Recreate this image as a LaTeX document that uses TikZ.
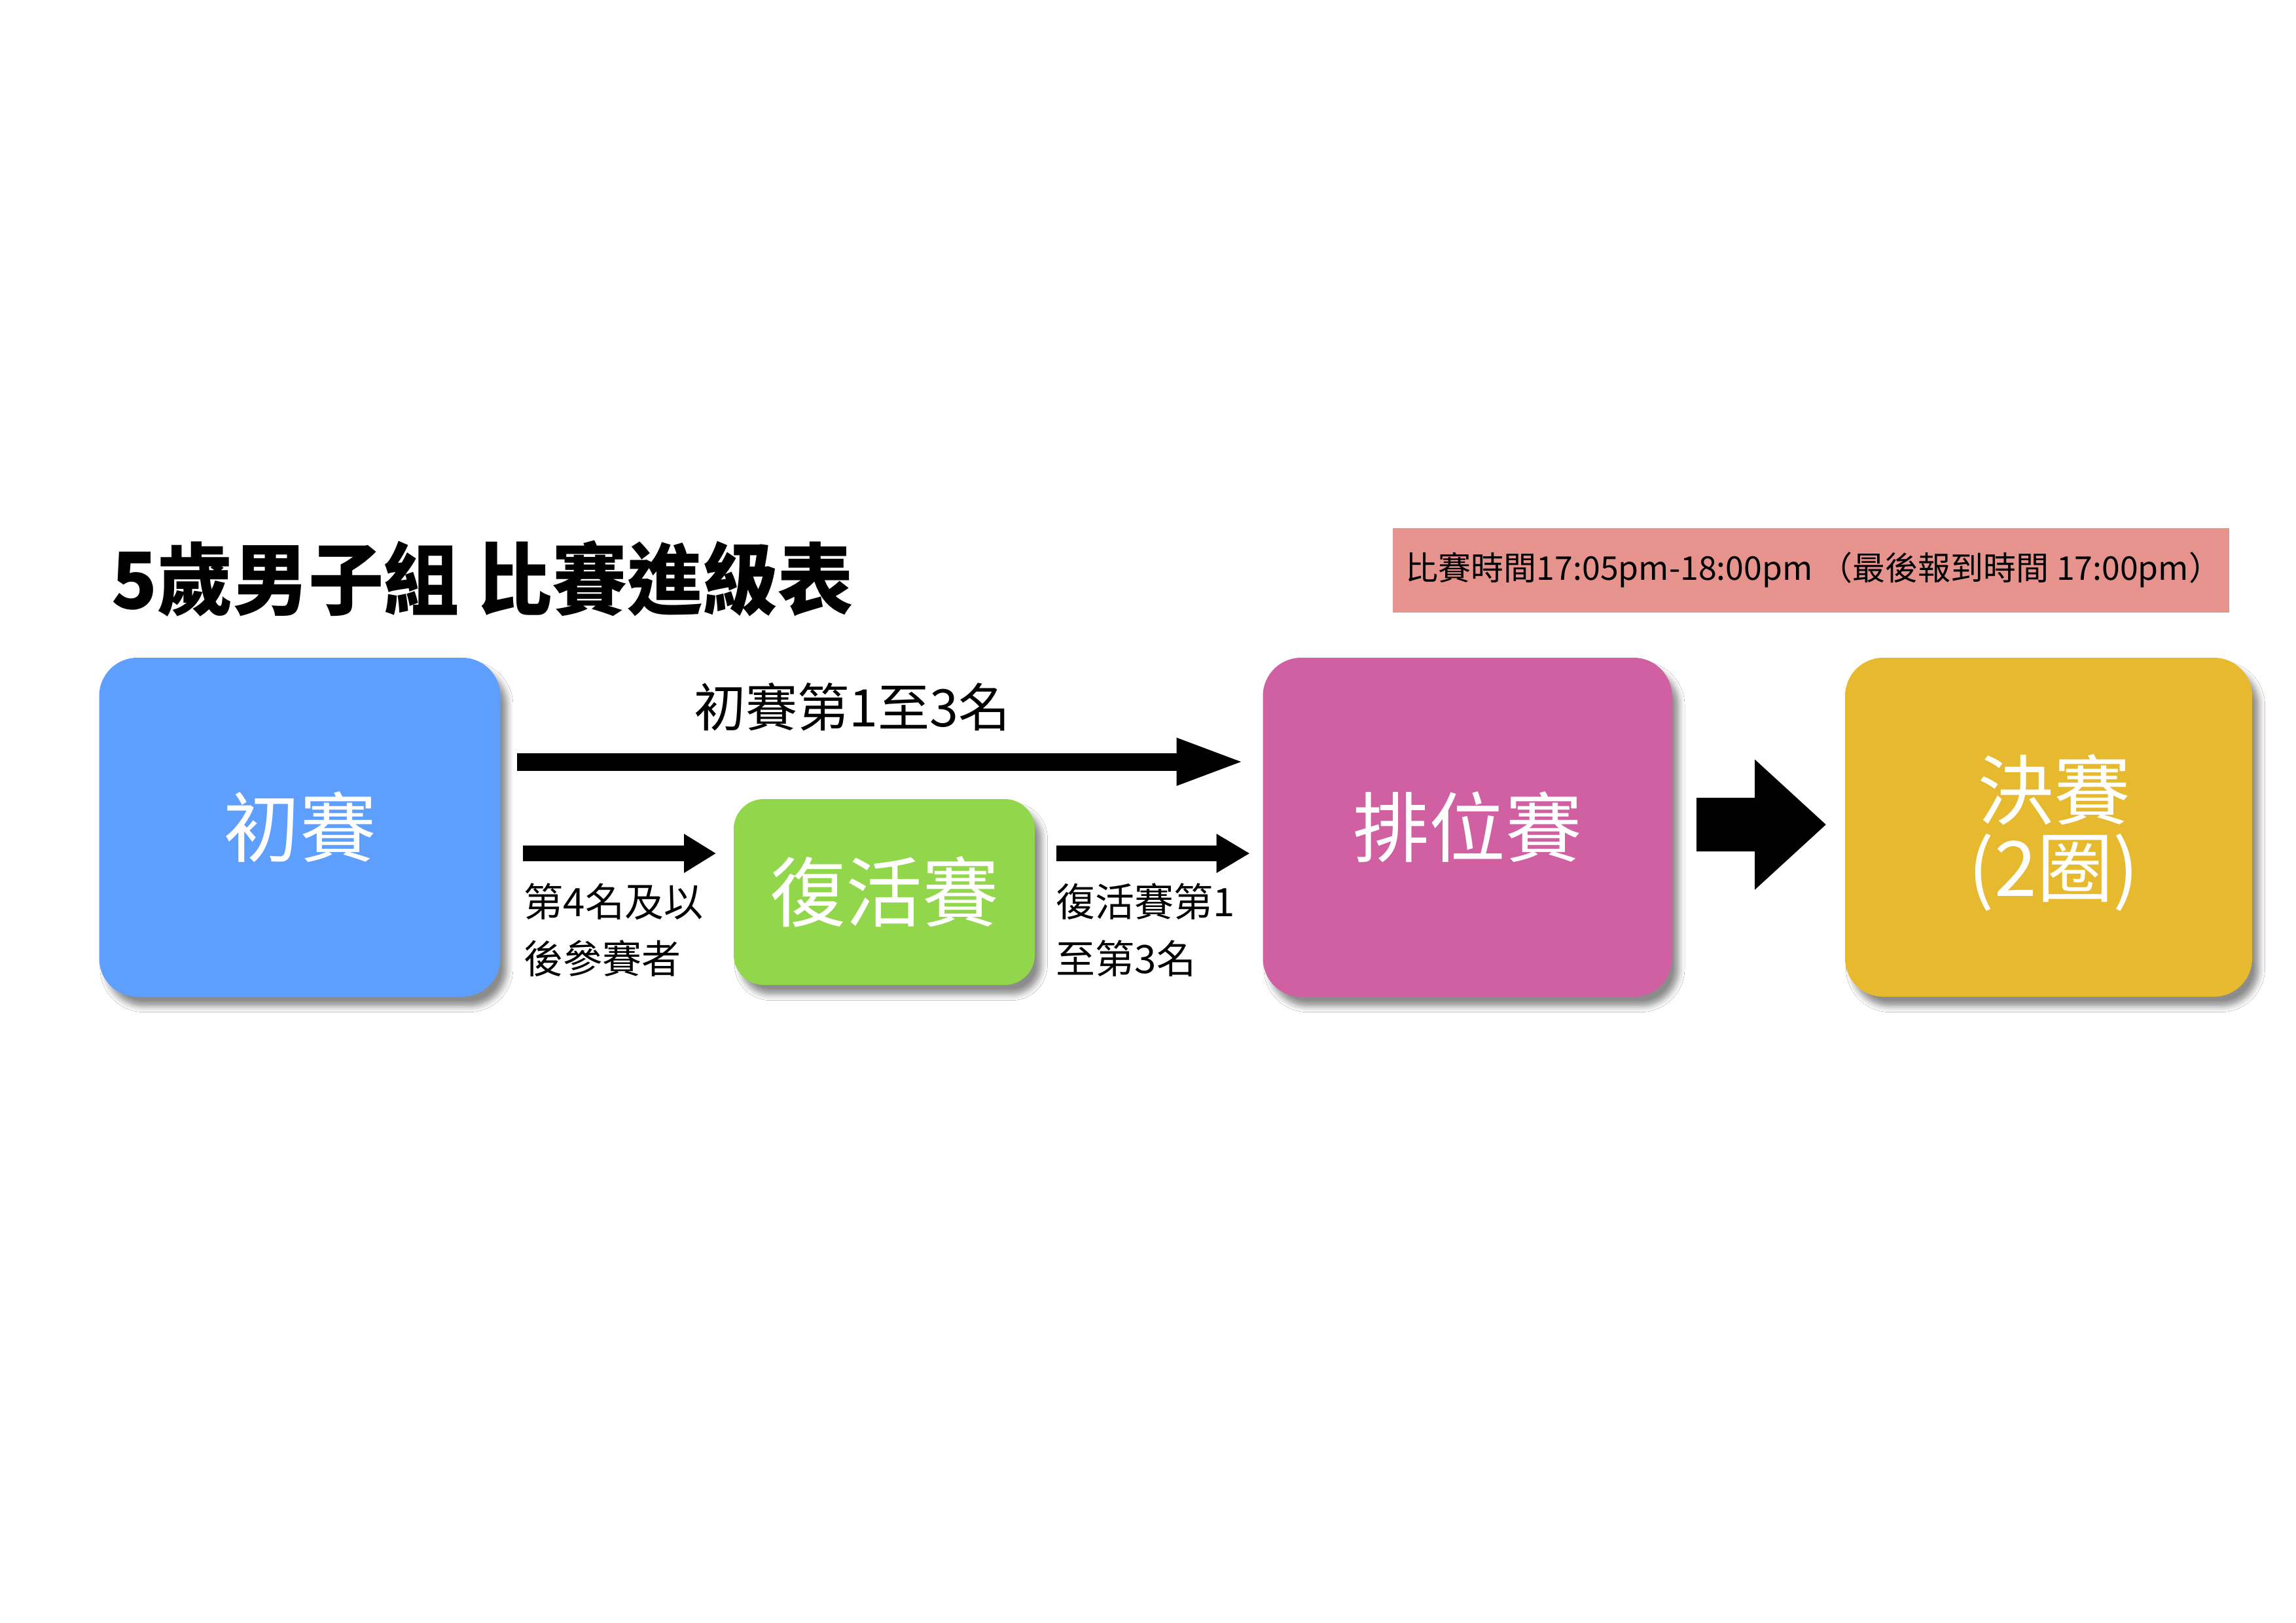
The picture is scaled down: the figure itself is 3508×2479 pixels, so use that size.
\documentclass[tikz,border=0pt]{standalone}
\usepackage{fontspec}
\setmainfont{Noto Sans CJK TC}
\newfontfamily\titlefont{Noto Sans CJK TC}[FakeStretch=0.96]
\usetikzlibrary{arrows.meta,shadows.blur}
\definecolor{cblue}{RGB}{94,158,252}
\definecolor{cgreen}{RGB}{146,214,75}
\definecolor{cpink}{RGB}{209,96,162}
\definecolor{cyellow}{RGB}{230,185,46}
\definecolor{csalmon}{RGB}{229,147,140}
\newcommand\pxu[1]{#1*0.24pt}
\begin{document}
\begin{tikzpicture}[x=0.24pt,y=-0.24pt,
  stagebox/.style={rounded corners=14pt, inner sep=0pt, text=white, align=center,
    font=\fontsize{28}{34}\selectfont,
    blur shadow={shadow xshift=2.5pt, shadow yshift=-3.5pt, shadow blur steps=6, shadow opacity=45}},
  fatarrow/.style={draw=black, line width=\pxu{#1}},
  sidelabel/.style={anchor=north west, inner sep=0pt, align=left, font=\fontsize{14.4}{20.9}\selectfont}
]
\fill[white] (0,0) rectangle (3508,2479);
\useasboundingbox (0,0) rectangle (3508,2479);

% title
\node[anchor=west, inner sep=0pt, font=\titlefont\bfseries\fontsize{28.8}{34}\selectfont] (title) at (170,884) {5歲男子組 比賽進級表};

% time banner
\node[fill=csalmon, minimum width=\pxu{1278}, minimum height=\pxu{129}, inner sep=0pt] (banner) at (2767,871) {};
\node[anchor=west, inner sep=0pt, font=\fontsize{12}{14}\selectfont] (bannertext) at (2147,871) {比賽時間17:05pm-18:00pm （最後報到時間 17:00pm）};

% stage boxes
\node[stagebox, fill=cblue, minimum width=\pxu{613}, minimum height=\pxu{518}] (blue) at (458,1264) {初賽};
\node[stagebox, fill=cgreen, rounded corners=11pt, minimum width=\pxu{460}, minimum height=\pxu{284}] (green) at (1351,1363) {復活賽};
\node[stagebox, fill=cpink, minimum width=\pxu{625}, minimum height=\pxu{518}] (pink) at (2242,1264) {排位賽};
\node[stagebox, fill=cyellow, minimum width=\pxu{622}, minimum height=\pxu{518}] (yellow) at (3130,1264) {};
\node[inner sep=0pt, text=white, align=center, font=\fontsize{28}{28.3}\selectfont] (yellowtext) at (3138,1272) {決賽\\(2圈)};

% level coordinates
\coordinate (ytop) at (0,1164);
\coordinate (ylow) at (0,1304);
\coordinate (ybig) at (0,1260);

% arrows
\draw[fatarrow=27, -{Triangle[length=\pxu{107}, width=\pxu{64}]}, shorten <=\pxu{25}, shorten >=\pxu{24}]
  (blue.east |- ytop) -- (pink.west |- ytop);
\draw[fatarrow=24, -{Triangle[length=\pxu{49}, width=\pxu{56}]}, shorten <=\pxu{34}, shorten >=\pxu{26}]
  (blue.east |- ylow) -- (green.west |- ylow);
\draw[fatarrow=24, -{Triangle[length=\pxu{51}, width=\pxu{56}]}, shorten <=\pxu{32}, shorten >=\pxu{19}]
  (green.east |- ylow) -- (pink.west |- ylow);
\draw[fatarrow=82, -{Triangle[length=\pxu{109}, width=\pxu{192}]}, shorten <=\pxu{37}, shorten >=\pxu{28}]
  (pink.east |- ybig) -- (yellow.west |- ybig);

% labels
\node[inner sep=0pt, font=\fontsize{19}{23}\selectfont] (toplabel) at (1302,1080) {初賽第1至3名};
\node[sidelabel] (leftlabel) at (800,1349) {第4名及以\\後參賽者};
\node[sidelabel] (rightlabel) at (1613,1349) {復活賽第1\\至第3名};
\end{tikzpicture}
\end{document}
